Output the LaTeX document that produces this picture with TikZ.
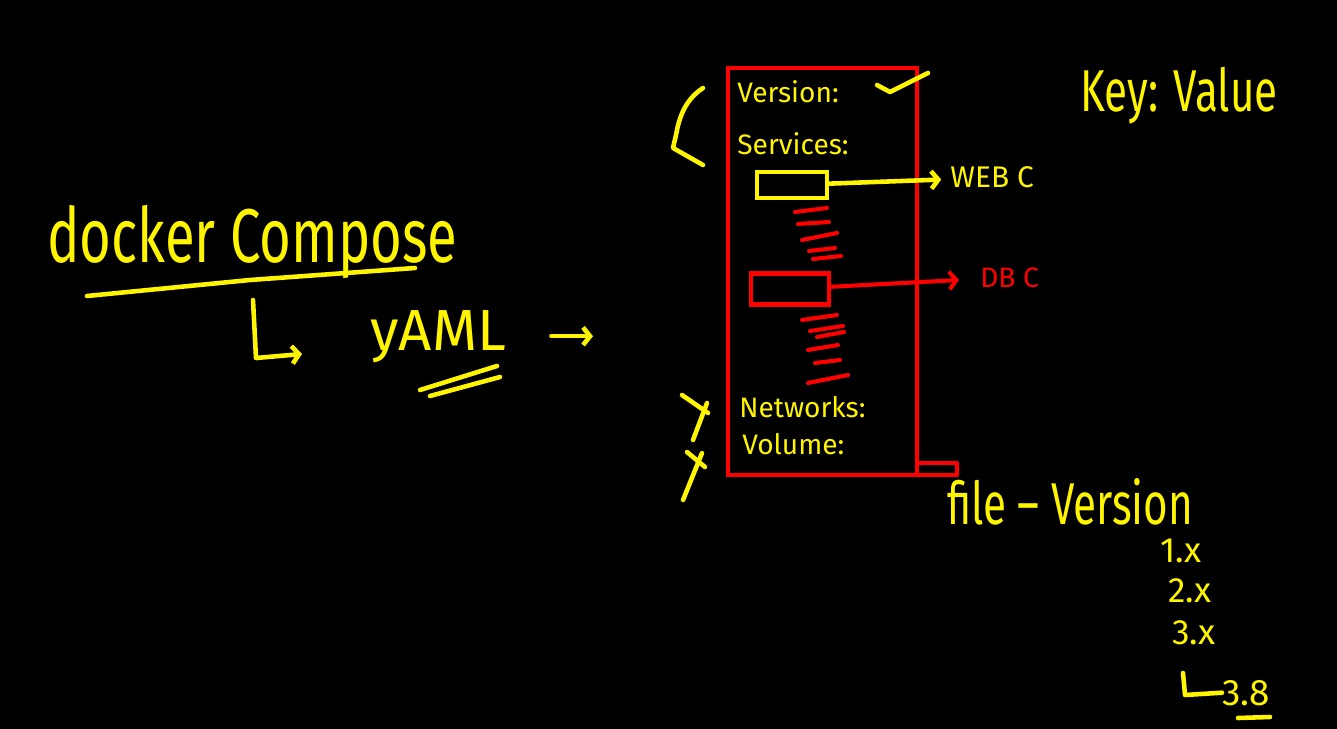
\documentclass[tikz,border=0pt]{standalone}
\usepackage{fontspec}
\setmainfont{Fira Sans}
\usetikzlibrary{positioning,arrows.meta}
\definecolor{pen}{HTML}{FFF500}
\definecolor{ink}{HTML}{FF0000}
\tikzset{
  hand/.style={pen,line width=2.6pt,line cap=round,line join=round},
  redhand/.style={ink,line width=2.3pt,line cap=round,line join=round},
  word/.style={text=pen,inner sep=0pt,anchor=base west},
  barb/.style={-{Straight Barb[length=4pt,width=10pt]}},
}
\newcommand{\fs}[1]{\fontsize{#1}{#1}\selectfont}
\newcommand{\tall}[1]{\scalebox{1}[1.4]{#1}}

\begin{document}
\begin{tikzpicture}[x=0.02cm,y=-0.02cm]
\fill[black] (0,0) rectangle (1337,729);

% left side
\node[word,font=\fs{31}] (compose) at (47,263) {\tall{docker Compose}};
\draw[hand] (87,296) -- (250,280) -- (415,268);
\node[word,font=\fs{33}] (yaml) at (370,350) {yAML};
\coordinate (ltop) at (253,300);
\coordinate (lend) at (302,354);
\draw[hand,barb] (ltop) -- (256,358) -- (lend);
\draw[hand] (420,390) -- (497,366);
\draw[hand] (430,396) -- (500,377);
\draw[hand,barb,shorten <=0.9cm,shorten >=2.7cm] (yaml.east) -- (yaml.east -| 728,0);

% the file
\node[draw=ink,line width=2.3pt,minimum width=3.78cm,minimum height=8.14cm,inner sep=0pt] (file) at (822.5,271.5) {};
\draw[redhand] (917,463) rectangle (957,475);
\node[word,font=\fs{16}] (version) at (737,103) {Version:};
\node[word,font=\fs{16}] (services) at (737,155) {Services:};
\node[word,font=\fs{16}] (networks) at (739,417) {Networks:};
\node[word,font=\fs{16}] (volume) at (742,454) {Volume:};
\draw[hand] (877,85) -- (890,92) -- (928,73);
\draw[hand] (703,88) .. controls (688,98) and (680,112) .. (676,135) -- (673,148) -- (703,165);
\draw[hand] (682,395) -- (708,413);
\draw[hand] (707,403) -- (693,440);
\draw[hand] (687,452) -- (705,467);
\draw[hand] (702,453) -- (683,500);

% services
\node[draw=pen,line width=2.6pt,minimum width=1.4cm,minimum height=0.52cm] (web) at (792,185) {};
\node[word,font=\fs{17}] (webc) at (950,188) {WEB C};
\draw[hand,barb,shorten >=5pt] (web) -- (webc);
\node[draw=ink,line width=2.3pt,minimum width=1.56cm,minimum height=0.62cm] (db) at (790,289) {};
\node[word,text=ink,font=\fs{16}] (dbc) at (980,287) {DB C};
\draw[redhand,barb,shorten >=12pt] (db) -- (dbc);
\foreach \a/\b/\c/\d in {795/212/827/208, 798/224/829/222, 802/240/837/233, 809/251/835/248, 813/259/841/256,
  802/320/837/315, 810/331/843/326, 817/337/844/332, 808/350/838/345, 815/363/840/360, 808/383/848/375}
  \draw[redhand] (\a,\b) -- (\c,\d);

% right side
\node[word,font=\fs{24}] (keyval) at (1080,112) {\tall{Key: Value}};
\node[word,font=\fs{24}] (fileversion) at (947,524) {\tall{file -- Version}};
\node[word,font=\fs{20}] (v1) at (1160,562) {1.x};
\node[word,font=\fs{20}] (v2) at (1168,602) {2.x};
\node[word,font=\fs{20}] (v3) at (1172,644) {3.x};
\node[word,font=\fs{21}] (v38) at (1222,705) {3.8};
\draw[hand] (1183,673) -- (1185,695) -- (v38.west);
\draw[hand] (1238,718) -- (1270,717);
\end{tikzpicture}
\end{document}
